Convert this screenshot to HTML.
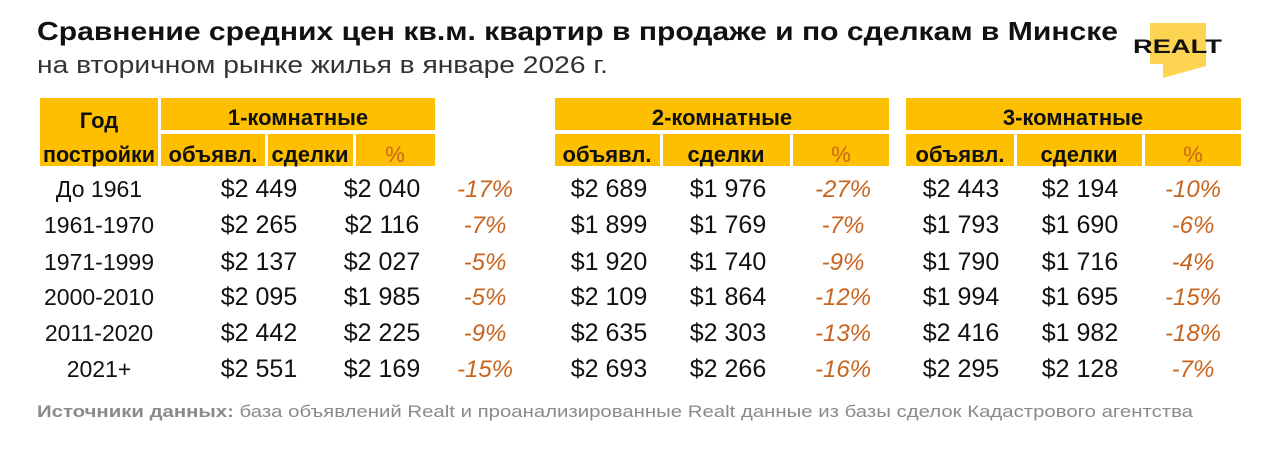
<!DOCTYPE html>
<html><head><meta charset="utf-8"><style>
html,body{margin:0;padding:0;background:#fff;}
svg{display:block;}
text{font-family:"Liberation Sans",sans-serif;}
.h{font-weight:bold;font-size:22px;fill:#111;text-anchor:middle;}
.n{font-size:25px;fill:#111;text-anchor:middle;}
.y{font-size:23px;fill:#111;text-anchor:middle;}
.p{font-size:24px;fill:#c8641e;text-anchor:middle;font-style:italic;}
</style></head><body>
<svg width="1269" height="457" viewBox="0 0 1269 457" xmlns="http://www.w3.org/2000/svg">
<text x="37" y="40" font-size="26" font-weight="bold" fill="#111" textLength="1081" lengthAdjust="spacingAndGlyphs">Сравнение средних цен кв.м. квартир в продаже и по сделкам в Минске</text>
<text x="37" y="73" font-size="24" fill="#333" textLength="571" lengthAdjust="spacingAndGlyphs">на вторичном рынке жилья в январе 2026 г.</text>
<polygon points="1150,23 1206,23 1206,66 1163,78 1163,64 1150,64" fill="#fdd352"/>
<text x="1133" y="53" font-size="19" font-weight="bold" fill="#111" textLength="89" lengthAdjust="spacingAndGlyphs">REALT</text>
<g fill="#fdbf00">
<rect x="40" y="98" width="118" height="68"/>
<rect x="161" y="98" width="274" height="32"/>
<rect x="161" y="134" width="104" height="32"/><rect x="268" y="134" width="85" height="32"/><rect x="356" y="134" width="79" height="32"/>
<rect x="555" y="98" width="334" height="32"/>
<rect x="555" y="134" width="105" height="32"/><rect x="663" y="134" width="127" height="32"/><rect x="793" y="134" width="96" height="32"/>
<rect x="906" y="98" width="335" height="32"/>
<rect x="906" y="134" width="108" height="32"/><rect x="1017" y="134" width="125" height="32"/><rect x="1145" y="134" width="96" height="32"/>
</g>
<text class="h" x="99" y="128">Год</text>
<text class="h" x="99" y="162" textLength="112" lengthAdjust="spacingAndGlyphs">постройки</text>
<text class="h" x="298" y="125">1-комнатные</text>
<text class="h" x="722" y="125">2-комнатные</text>
<text class="h" x="1073" y="125">3-комнатные</text>
<text class="h" x="213" y="162">объявл.</text><text class="h" x="310" y="162">сделки</text><text class="h" x="395" y="162" style="fill:#c8641e;font-weight:normal">%</text>
<text class="h" x="607" y="162">объявл.</text><text class="h" x="726" y="162">сделки</text><text class="h" x="841" y="162" style="fill:#c8641e;font-weight:normal">%</text>
<text class="h" x="960" y="162">объявл.</text><text class="h" x="1079" y="162">сделки</text><text class="h" x="1193" y="162" style="fill:#c8641e;font-weight:normal">%</text>
<g>
<text class="y" x="99" y="197">До 1961</text><text class="n" x="259" y="197">$2 449</text><text class="n" x="382" y="197">$2 040</text><text class="p" x="485" y="197">-17%</text>
<text class="n" x="609" y="197">$2 689</text><text class="n" x="728" y="197">$1 976</text><text class="p" x="843" y="197">-27%</text>
<text class="n" x="961" y="197">$2 443</text><text class="n" x="1080" y="197">$2 194</text><text class="p" x="1193" y="197">-10%</text>

<text class="y" x="99" y="233">1961-1970</text><text class="n" x="259" y="233">$2 265</text><text class="n" x="382" y="233">$2 116</text><text class="p" x="485" y="233">-7%</text>
<text class="n" x="609" y="233">$1 899</text><text class="n" x="728" y="233">$1 769</text><text class="p" x="843" y="233">-7%</text>
<text class="n" x="961" y="233">$1 793</text><text class="n" x="1080" y="233">$1 690</text><text class="p" x="1193" y="233">-6%</text>

<text class="y" x="99" y="270">1971-1999</text><text class="n" x="259" y="270">$2 137</text><text class="n" x="382" y="270">$2 027</text><text class="p" x="485" y="270">-5%</text>
<text class="n" x="609" y="270">$1 920</text><text class="n" x="728" y="270">$1 740</text><text class="p" x="843" y="270">-9%</text>
<text class="n" x="961" y="270">$1 790</text><text class="n" x="1080" y="270">$1 716</text><text class="p" x="1193" y="270">-4%</text>

<text class="y" x="99" y="305">2000-2010</text><text class="n" x="259" y="305">$2 095</text><text class="n" x="382" y="305">$1 985</text><text class="p" x="485" y="305">-5%</text>
<text class="n" x="609" y="305">$2 109</text><text class="n" x="728" y="305">$1 864</text><text class="p" x="843" y="305">-12%</text>
<text class="n" x="961" y="305">$1 994</text><text class="n" x="1080" y="305">$1 695</text><text class="p" x="1193" y="305">-15%</text>

<text class="y" x="99" y="341">2011-2020</text><text class="n" x="259" y="341">$2 442</text><text class="n" x="382" y="341">$2 225</text><text class="p" x="485" y="341">-9%</text>
<text class="n" x="609" y="341">$2 635</text><text class="n" x="728" y="341">$2 303</text><text class="p" x="843" y="341">-13%</text>
<text class="n" x="961" y="341">$2 416</text><text class="n" x="1080" y="341">$1 982</text><text class="p" x="1193" y="341">-18%</text>

<text class="y" x="99" y="377">2021+</text><text class="n" x="259" y="377">$2 551</text><text class="n" x="382" y="377">$2 169</text><text class="p" x="485" y="377">-15%</text>
<text class="n" x="609" y="377">$2 693</text><text class="n" x="728" y="377">$2 266</text><text class="p" x="843" y="377">-16%</text>
<text class="n" x="961" y="377">$2 295</text><text class="n" x="1080" y="377">$2 128</text><text class="p" x="1193" y="377">-7%</text>
</g>
<text x="37" y="417" font-size="17" fill="#8a8a8a" textLength="1156" lengthAdjust="spacingAndGlyphs"><tspan font-weight="bold">Источники данных:</tspan> база объявлений Realt и проанализированные Realt данные из базы сделок Кадастрового агентства</text>
</svg>
</body></html>
